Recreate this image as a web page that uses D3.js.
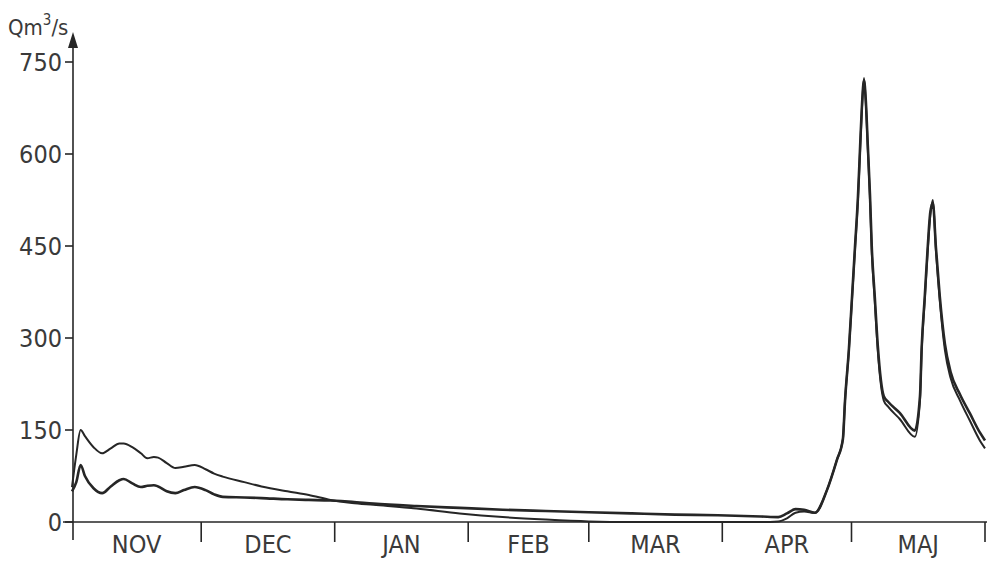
<!DOCTYPE html>
<html><head><meta charset="utf-8">
<script src="https://cdn.jsdelivr.net/npm/d3@7/dist/d3.min.js"></script>
<style>
html,body{margin:0;padding:0;background:#fff;}
svg{display:block;}
</style></head>
<body>
<svg id="c" width="987" height="563"></svg>
<script>
// ---- data ----
const months = ["NOV","DEC","JAN","FEB","MAR","APR","MAJ"];
const yTicks = [0,150,300,450,600,750];
const yLabel = "Qm";
const yLabelSup = "3";
const yLabelTail = "/s";
// day offset from 1 November
const days = [0,1,2,3,5,7,9,11,12,14,16,17.5,19,20,22,24,26,28.5,31,33,35,40,44,50,55,60,65,70,80,90,100,110,120,130,140,150,160,164,166,168,170,172.5,175.3,177.6,179,179.5,180.4,181.1,181.8,182.5,183,183.4,183.9,184.3,184.8,185.3,185.7,186.4,187.1,188.5,189.5,192.2,195.7,196.9,197.3,198,198.7,199.3,199.9,200.6,201.5,202.7,204,206.2,208.5,210.8,212];
const seriesA = [57,110,150,140,122,112,120,128,128,122,112,104,106,105,96,88,90,93,86,79,74,65,58,50,44,36,31,28,22,14,8,4,1,0,0,0,0,1,6,15,17,15,52,101,135,198,280,361,443,525,606,670,724,687,606,525,443,361,280,198,188,168,139,198,280,361,443,500,525,443,361,280,235,198,165,133,120];
const seriesB = [50,65,93,75,55,47,58,68,70,63,57,59,60,58,50,47,52,57,52,45,41,40,39,37,36,35,33,30,26,23,20,18,16,14,12,11,9,8,14,21,20,15,52,101,135,198,282,364,447,530,612,675,720,690,612,532,450,368,288,205,196,178,149,205,285,366,448,505,520,448,368,290,245,208,177,146,133];

// ---- chart ----
const svg = d3.select("#c");
const ink = "#262626";
const start = new Date(1990,10,1);
const end = new Date(1991,5,1);
const dayMs = 86400000;
const toDate = d => new Date(start.getTime() + d*dayMs);

const x = d3.scaleTime().domain([start,end]).range([72,985]);
const y = d3.scaleLinear().domain([0,750]).range([522,62]);
const font = "'DejaVu Sans Condensed','DejaVu Sans',sans-serif";

// x axis baseline
svg.append("line").attr("x1",63).attr("x2",987).attr("y1",y(0)).attr("y2",y(0))
  .attr("stroke",ink).attr("stroke-width",1.6);
// month boundary ticks
const bounds = d3.timeMonth.range(start, d3.timeDay.offset(end,1)).slice(1);
svg.selectAll("line.mt").data(bounds).join("line").attr("class","mt")
  .attr("x1",d=>x(d)).attr("x2",d=>x(d)).attr("y1",y(0)).attr("y2",y(0)+20)
  .attr("stroke",ink).attr("stroke-width",1.6);
// month labels
const mStarts = d3.timeMonth.range(start,end);
svg.selectAll("text.ml").data(mStarts).join("text").attr("class","ml")
  .attr("x",(d,i)=>(x(d)+x(d3.timeMonth.offset(d,1)))/2)
  .attr("y",553).attr("text-anchor","middle")
  .attr("font-family",font).attr("font-size",25).attr("fill","#3a3a3a")
  .text((d,i)=>months[i]);

// y axis
const ax = 73;
svg.append("line").attr("x1",ax).attr("x2",ax).attr("y1",540).attr("y2",44)
  .attr("stroke",ink).attr("stroke-width",1.6);
svg.append("path").attr("d",`M${ax},32 L${ax-5},48 L${ax+5},48 Z`).attr("fill",ink);
svg.selectAll("line.yt").data(yTicks).join("line").attr("class","yt")
  .attr("x1",ax-8).attr("x2",ax).attr("y1",d=>y(d)).attr("y2",d=>y(d))
  .attr("stroke",ink).attr("stroke-width",1.6);
svg.selectAll("text.yl").data(yTicks).join("text").attr("class","yl")
  .attr("x",62).attr("y",d=>y(d)+9).attr("text-anchor","end")
  .attr("font-family",font).attr("font-size",25).attr("fill","#3a3a3a")
  .text(d=>d);

// unit label
const t = svg.append("text").attr("x",8).attr("y",35)
  .attr("font-family",font).attr("font-size",22).attr("fill","#3a3a3a");
t.append("tspan").text(yLabel);
t.append("tspan").attr("dy",-10).attr("font-size",15).text(yLabelSup);
t.append("tspan").attr("dy",10).text(yLabelTail);

// lines
const line = d3.line().x(d=>x(toDate(d[0]))).y(d=>y(d[1])).curve(d3.curveMonotoneX);
svg.append("path").datum(days.map((d,i)=>[d,seriesA[i]]))
  .attr("d",line).attr("fill","none").attr("stroke",ink).attr("stroke-width",2)
  .attr("stroke-linejoin","round");
svg.append("path").datum(days.map((d,i)=>[d,seriesB[i]]))
  .attr("d",line).attr("fill","none").attr("stroke",ink).attr("stroke-width",2.6)
  .attr("stroke-linejoin","round");
</script>
</body></html>
